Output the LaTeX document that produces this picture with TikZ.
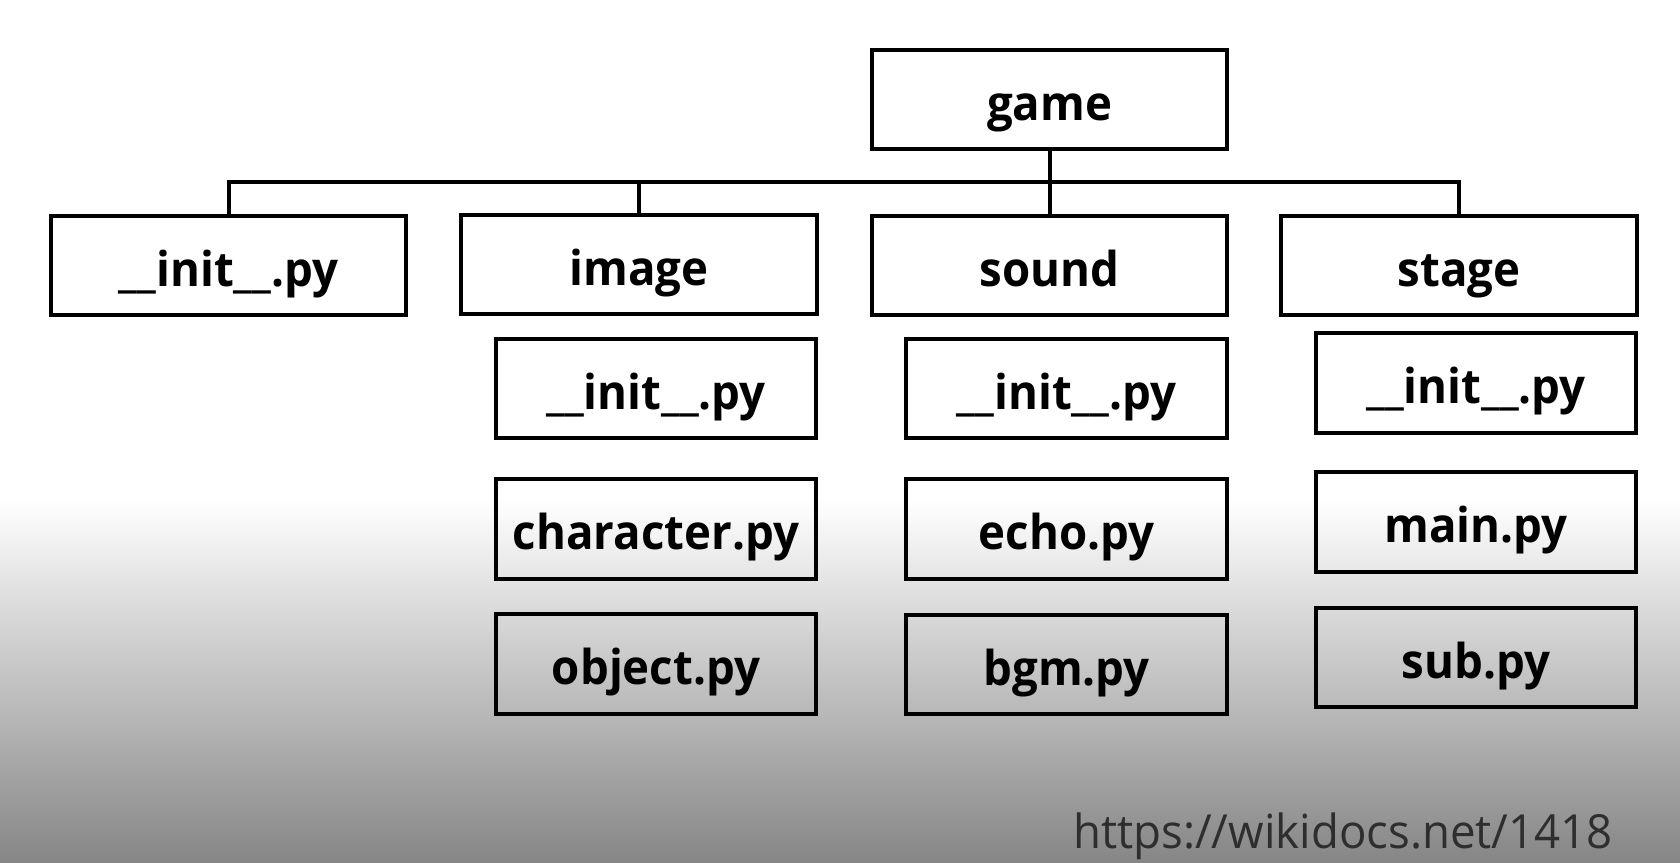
\documentclass[tikz,border=0pt]{standalone}
\usepackage{fontspec}
\newfontfamily\boxfont{Open Sans}[FakeStretch=0.95]
\newfontfamily\urlfont{Open Sans}[FakeStretch=0.97]
\begin{document}
\begin{tikzpicture}[x=1pt,y=-1pt,
  box/.style={draw=black, line width=4pt, line join=miter, minimum height=99.5pt,
    inner sep=0pt, text height=41pt, text depth=0pt,
    font=\boxfont\bfseries\fontsize{48}{48}\selectfont},
  wide/.style={box, minimum width=355.5pt},
  narrow/.style={box, minimum width=320.5pt},
  conn/.style={draw=black, line width=4pt, line join=miter}]
\useasboundingbox (0,0) rectangle (1680,862);
\fill[white] (0,0) rectangle (1680,500);
\shade[top color=white, bottom color={rgb,255:red,134;green,134;blue,134}] (0,499.5) rectangle (1680,862);

\node[wide] (game) at (1049.5,99.5) {game};
\node[wide] (init0) at (228.5,265.5) {\_\_init\_\_.py};
\node[wide] (image) at (639,264.5) {image};
\node[wide] (sound) at (1049.5,265.5) {sound};
\node[wide] (stage) at (1459,265.5) {stage};

\node[narrow] (imginit) at (656,388.5) {\_\_init\_\_.py};
\node[narrow] (character) at (656,529) {character.py};
\node[narrow] (object) at (656,664) {object.py};

\node[narrow] (sndinit) at (1066.5,388.5) {\_\_init\_\_.py};
\node[narrow] (echo) at (1066.5,529) {echo.py};
\node[narrow] (bgm) at (1066.5,664.5) {bgm.py};

\node[narrow] (stginit) at (1476,383) {\_\_init\_\_.py};
\node[narrow] (main) at (1476,522) {main.py};
\node[narrow] (sub) at (1476,657.5) {sub.py};

\coordinate (bus) at (0,182);
\draw[conn] (init0.north) -- (init0.north |- bus) -- (stage.north |- bus) -- (stage.north);
\draw[conn] (image.north) -- (image.north |- bus);
\draw[conn] (game.south) -- (sound.north);

\node[anchor=base east, inner sep=0pt, font=\urlfont\fontsize{47}{47}\selectfont, text=black!82] (url) at (1613,848) {https://wikidocs.net/1418};
\end{tikzpicture}
\end{document}
